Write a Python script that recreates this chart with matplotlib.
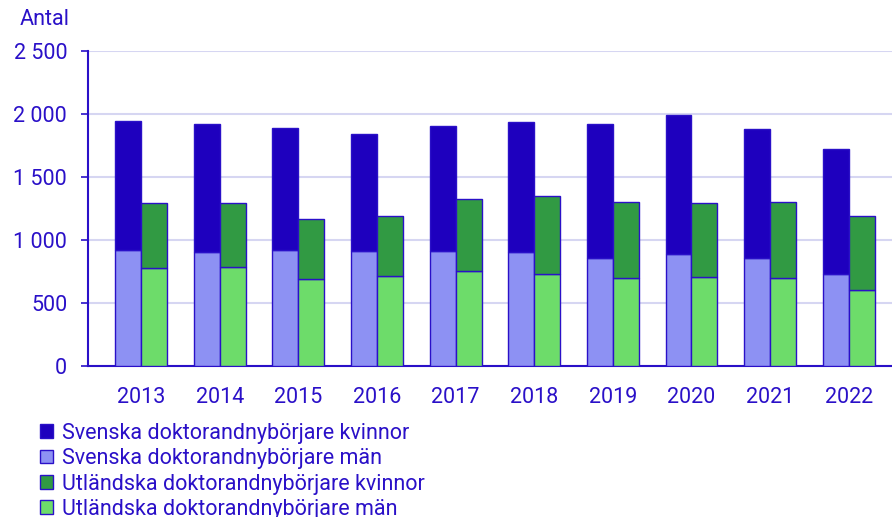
import matplotlib.pyplot as plt
import numpy as np
from matplotlib.patches import Patch

years = ['2013', '2014', '2015', '2016', '2017', '2018', '2019', '2020', '2021', '2022']
sv_kvinnor = [1022, 1016, 971, 923, 997, 1034, 1069, 1101, 1026, 990]
sv_man = [925, 910, 923, 918, 913, 905, 857, 891, 857, 735]
ut_kvinnor = [513, 505, 474, 473, 572, 621, 604, 590, 601, 587]
ut_man = [783, 791, 695, 717, 756, 733, 703, 706, 703, 606]

labels = ['Svenska doktorandnybörjare kvinnor', 'Svenska doktorandnybörjare män',
          'Utländska doktorandnybörjare kvinnor', 'Utländska doktorandnybörjare män']
colors = ['#1e00be', '#8d91f3', '#319a43', '#6ddc6a']
txt = '#2a10c8'
edge = '#2a10c8'
fs = 15.5

plt.rcParams['font.family'] = ['Roboto', 'DejaVu Sans']

fig = plt.figure(figsize=(8.92, 5.17), dpi=100)
ax = fig.add_axes([0.0987, 0.2915, 0.9013, 0.609])

x = np.arange(len(years))
w = 0.33
ax.bar(x - w / 2, sv_man, w, color=colors[1], edgecolor=edge, linewidth=1, zorder=3)
ax.bar(x - w / 2, sv_kvinnor, w, bottom=sv_man, color=colors[0], edgecolor=edge, linewidth=1, zorder=3)
ax.bar(x + w / 2, ut_man, w, color=colors[3], edgecolor=edge, linewidth=1, zorder=3)
ax.bar(x + w / 2, ut_kvinnor, w, bottom=ut_man, color=colors[2], edgecolor=edge, linewidth=1, zorder=3)

ax.set_xlim(-0.674, 9.55)
ax.set_ylim(0, 2500)
yt = [0, 500, 1000, 1500, 2000, 2500]
ax.set_yticks(yt)
ax.set_yticklabels([f'{v:,}'.replace(',', ' ') for v in yt])
ax.set_xticks(x)
ax.set_xticklabels(years)
ax.grid(axis='y', color='#d6d6f2', linewidth=1.5, zorder=0)
for s in ['top', 'right']:
    ax.spines[s].set_visible(False)
ax.spines['left'].set_color(edge)
ax.spines['bottom'].set_color(edge)
ax.spines['left'].set_linewidth(1.5)
ax.spines['bottom'].set_linewidth(1.5)
ax.tick_params(axis='y', colors=edge, labelcolor=txt, labelsize=fs, length=5, width=1.2, pad=10)
ax.tick_params(axis='x', length=0, labelcolor=txt, labelsize=fs, pad=15)

fig.text(0.022, 0.962, 'Antal', color=txt, fontsize=fs, va='center')

handles = [Patch(facecolor=c, edgecolor=edge, linewidth=1) for c in colors]
fig.legend(handles, labels, loc='upper left', bbox_to_anchor=(0.045, 0.182), frameon=False,
           fontsize=fs, labelcolor=txt, handlelength=0.6, handleheight=0.6,
           handletextpad=0.4, labelspacing=0.2, borderaxespad=0, borderpad=0)

fig.savefig('out.png', dpi=100)
